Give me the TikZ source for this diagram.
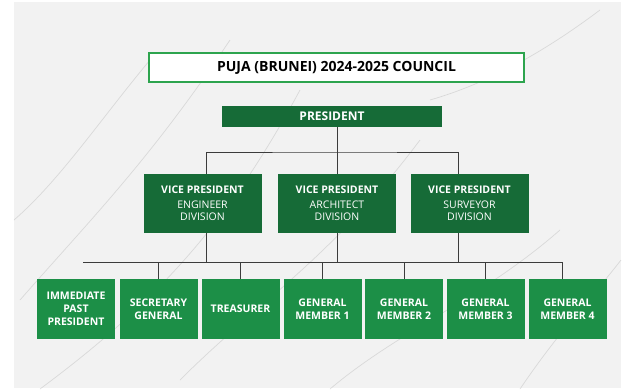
\documentclass[tikz,border=0pt]{standalone}
\usepackage{fontspec}
\setmainfont{Open Sans}

\definecolor{darkgreen}{HTML}{166B37}
\definecolor{boxgreen}{HTML}{1C8F47}
\definecolor{framegreen}{HTML}{2DA44E}
\definecolor{marble}{HTML}{F2F2F2}
\definecolor{linegray}{HTML}{3C3C3C}

\tikzset{
  titlebox/.style={draw=framegreen, line width=2pt, fill=white, minimum width=375pt, minimum height=29pt, inner sep=0pt, font=\bfseries\fontsize{14}{16}\selectfont},
  headbox/.style={fill=darkgreen, text=white, minimum width=220pt, minimum height=21pt, inner sep=0pt, font=\bfseries\fontsize{12}{14}\selectfont},
  vpbox/.style={fill=darkgreen, text=white, minimum width=118pt, minimum height=59pt, inner sep=0pt, align=center, font=\bfseries\fontsize{10.5}{12.5}\selectfont},
  memberbox/.style={fill=boxgreen, text=white, minimum width=78pt, minimum height=60pt, inner sep=0pt, align=center, font=\bfseries\fontsize{10.5}{13}\selectfont},
  link/.style={draw=linegray, line width=1pt},
  vein/.style={draw=gray, opacity=0.22, line width=0.7pt}
}

\begin{document}
\begin{tikzpicture}[x=1pt,y=-1pt]
    \useasboundingbox (0,0) rectangle (627,389);
    \fill[white] (0,0) rectangle (627,389);
    \fill[marble] (14,2) rectangle (621,388);
    % marble veins
    \draw[vein] (20,300) .. controls (90,220) and (150,160) .. (230,40);
    \draw[vein] (40,389) .. controls (160,300) and (230,220) .. (300,90);
    \draw[vein] (180,380) .. controls (260,300) and (330,260) .. (420,140);
    \draw[vein] (520,389) .. controls (560,330) and (590,300) .. (621,260);
    \draw[vein] (430,100) .. controls (500,80) and (560,40) .. (600,10);
    \draw[vein] (14,220) .. controls (60,180) and (100,120) .. (150,60);
    \draw[vein] (330,389) .. controls (400,330) and (480,300) .. (560,230);

    \node[titlebox] (title) at (336.5,67.5) {PUJA (BRUNEI) 2024-2025 COUNCIL};
    \node[headbox] (pres) at (332,116.5) {PRESIDENT};

    \node[vpbox] (vpeng) at (202.5,203.5) {VICE PRESIDENT\\[2pt]{\mdseries ENGINEER}\\{\mdseries DIVISION}};
    \node[vpbox] (vparch) at (337,203.5) {VICE PRESIDENT\\[2pt]{\mdseries ARCHITECT}\\{\mdseries DIVISION}};
    \node[vpbox] (vpsur) at (469.5,203.5) {VICE PRESIDENT\\[2pt]{\mdseries SURVEYOR}\\{\mdseries DIVISION}};

    \node[memberbox] (past) at (76,309) {IMMEDIATE\\PAST\\PRESIDENT};
    \node[memberbox] (secgen) at (158.5,309) {SECRETARY\\GENERAL};
    \node[memberbox] (treas) at (240.5,309) {TREASURER};
    \node[memberbox] (mem1) at (322.5,309) {GENERAL\\MEMBER 1};
    \node[memberbox] (mem2) at (404,309) {GENERAL\\MEMBER 2};
    \node[memberbox] (mem3) at (485.5,309) {GENERAL\\MEMBER 3};
    \node[memberbox] (mem4) at (567.5,309) {GENERAL\\MEMBER 4};

    % connectors
    \coordinate (topbus) at (337,152);
    \coordinate (lowbus) at (83,262);
    \draw[link] (vparch.north |- pres.south) -- (vparch.north);
    \draw[link] ([xshift=3.5pt]vpeng.north) |- (topbus) -| ([xshift=-11.5pt]vpsur.north);
    \draw[link] ([xshift=3.5pt]vpeng.south) -- ([xshift=3.5pt]vpeng.south |- lowbus);
    \draw[link] (vparch.south) -- (vparch.south |- lowbus);
    \draw[link] ([xshift=-11.5pt]vpsur.south) -- ([xshift=-11.5pt]vpsur.south |- lowbus);
    \draw[link] (lowbus) -| ([xshift=-5pt]mem4.north);
    \foreach \n in {secgen,treas,mem1,mem2,mem3}
        \draw[link] (\n.north) -- (\n.north |- lowbus);
\end{tikzpicture}
\end{document}
